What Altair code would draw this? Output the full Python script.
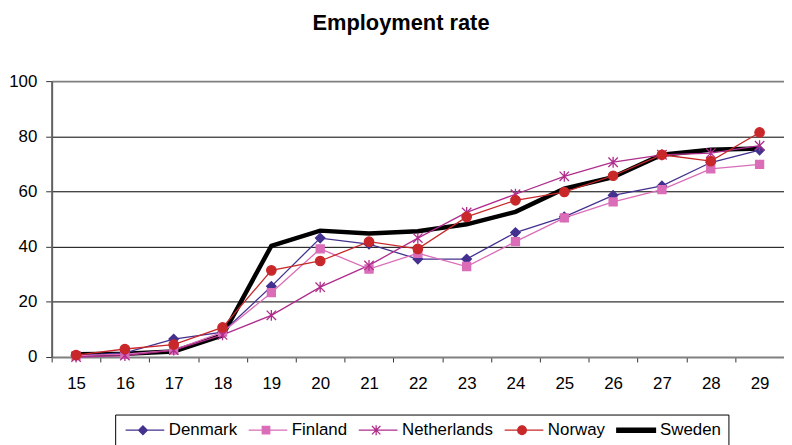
import altair as alt
import pandas as pd

ages = [15, 16, 17, 18, 19, 20, 21, 22, 23, 24, 25, 26, 27, 28, 29]
countries = ["Denmark", "Finland", "Netherlands", "Norway", "Sweden"]

denmark = [0.5, 1.5, 6.5, 9.0, 25.6, 43.1, 40.9, 35.5, 35.5, 45.1, 50.8, 58.6, 62.0, 70.5, 75.0]
finland = [0.5, 1.0, 2.5, 9.0, 23.3, 39.2, 31.9, 37.6, 32.8, 41.8, 50.4, 56.2, 60.7, 68.2, 69.8]
netherlands = [0.0, 0.5, 2.5, 8.0, 15.1, 25.3, 33.2, 43.1, 52.4, 59.0, 65.5, 70.6, 73.3, 73.9, 76.6]
norway = [0.7, 2.9, 4.5, 10.7, 31.4, 34.8, 41.8, 39.2, 50.8, 56.8, 59.8, 65.7, 73.3, 71.0, 81.4]
sweden = [1.0, 1.2, 2.0, 7.8, 40.3, 45.8, 44.8, 45.6, 48.1, 52.6, 61.0, 65.2, 73.3, 75.1, 75.6]

colors = ["#44308F", "#DA6CB8", "#B02C8C", "#C8282A", "#000000"]

# marker shapes on the plot (unit coords, scaled by sqrt(size)/2)
mark_shapes = [
    "M0,-1L1,0L0,1L-1,0Z",
    "M-0.85,-0.85H0.85V0.85H-0.85Z",
    "M-1,-1L1,1M-1,1L1,-1M0,-1.15L0,1.15",
    "circle",
]
# legend symbols: line segment with marker
legend_shapes = [
    "M-1,0H6.8M2.5,-0.87L3.37,0L2.5,0.87L1.63,0Z",
    "M-1,0H6.8M1.75,-0.75H3.25V0.75H1.75Z",
    "M-1,0H6.8M1.65,-0.85L3.35,0.85M1.65,0.85L3.35,-0.85M2.5,-1L2.5,1",
    "M-1,0H6.8M3.37,0A0.87,0.87,0,1,1,1.63,0A0.87,0.87,0,1,1,3.37,0Z",
    "M-1,-0.42H6.8V0.42H-1Z",
]

series = [denmark, finland, netherlands, norway, sweden]
rows = []
for c, vals in zip(countries, series):
    for a, v in zip(ages, vals):
        rows.append({"age": str(a), "country": c, "value": v})
df = pd.DataFrame(rows)

FONT = "Liberation Sans"

x = alt.X(
    "age:O",
    sort=[str(a) for a in ages],
    scale=alt.Scale(type="band", paddingInner=0, paddingOuter=0),
    axis=alt.Axis(
        title=None, labelAngle=0, tickBand="extent", grid=False,
        labelFont=FONT, labelFontSize=17, labelColor="black",
        tickSize=5, tickColor="#333333", labelPadding=14,
        domainColor="#808080", domainWidth=2,
    ),
)
y = alt.Y(
    "value:Q",
    scale=alt.Scale(domain=[0, 100], nice=False),
    axis=alt.Axis(
        title=None, values=[0, 20, 40, 60, 80, 100],
        labelFont=FONT, labelFontSize=17, labelColor="black",
        tickSize=6, tickColor="#333333", labelPadding=9,
        domainColor="#606060", domainWidth=2,
        gridColor={"condition": {"test": "datum.value === 100 || datum.value === 0", "value": "#808080"}, "value": "#000000"},
        gridWidth={"condition": {"test": "datum.value === 100", "value": 2}, "value": 1},
    ),
)

cscale = alt.Scale(domain=countries, range=colors)
base = alt.Chart(df)

sweden_line = base.transform_filter("datum.country === 'Sweden'").mark_line(
    strokeWidth=4.5, color="black"
).encode(x=x, y=y)

other_lines = base.transform_filter("datum.country !== 'Sweden'").mark_line(
    strokeWidth=1.3
).encode(x=x, y=y, color=alt.Color("country:N", scale=cscale, legend=None))

point_layers = []
for c, col, shp in zip(countries[:4], colors[:4], mark_shapes):
    point_layers.append(
        base.transform_filter(f"datum.country === '{c}'").mark_point(
            shape=shp, size=90, fill=col, stroke=col, strokeWidth=1.3, opacity=1, filled=True
        ).encode(x=x, y=y)
    )

legend = alt.Legend(
    orient="none", legendX=64, legendY=336, direction="horizontal", columns=5,
    title=None, labelFont=FONT, labelFontSize=17, labelColor="black",
    symbolSize=100, symbolStrokeWidth=1.3, labelOffset=30, columnPadding=8,
    padding=7, strokeColor="black", fillColor="white", symbolOpacity=1,
)
legend_layer = base.mark_point(
    filled=True, size=100, opacity=0, strokeWidth=1.3
).encode(
    x=x, y=y,
    shape=alt.Shape("country:N", scale=alt.Scale(domain=countries, range=legend_shapes), legend=legend),
    fill=alt.Fill("country:N", scale=cscale, legend=legend),
    stroke=alt.Stroke("country:N", scale=cscale, legend=legend),
)

chart = alt.layer(legend_layer, sweden_line, other_lines, *point_layers).properties(
    width=738, height=278,
    title=alt.TitleParams(
        "Employment rate", font=FONT, fontSize=22, fontWeight="bold", color="black",
        anchor="middle", frame="bounds", baseline="alphabetic", offset=21,
    ),
    padding={"left": 44, "top": 72, "right": 0, "bottom": 87},
    autosize=alt.AutoSizeParams(type="none"),
).configure_view(stroke=None).configure(background="white")

chart.save("out.html", embed_options={"renderer": "svg", "actions": False})
